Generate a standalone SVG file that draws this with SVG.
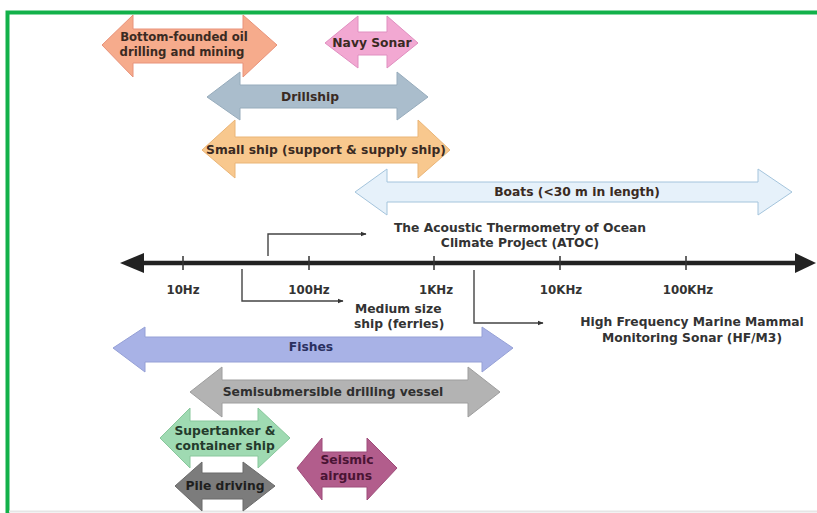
<svg xmlns="http://www.w3.org/2000/svg" width="817" height="513" viewBox="0 0 817 513">
<defs>
<style>
text{font-family:"DejaVu Sans","Liberation Sans",sans-serif;font-weight:bold;font-size:12.3px;text-anchor:middle;fill:#3a2a22}
.lbl{fill:#333}
.conn{fill:none;stroke:#444;stroke-width:1.4}
.shape{stroke-width:1;stroke-linejoin:miter}
</style>
<marker id="ah" viewBox="0 0 10 10" refX="9" refY="5" markerWidth="6" markerHeight="6" orient="auto" markerUnits="userSpaceOnUse"><path d="M0,1 L10,5 L0,9 Z" fill="#333"/></marker>
</defs>
<rect x="0" y="0" width="817" height="513" fill="#ffffff"/>
<path d="M7.5,513 V12.5 H817" fill="none" stroke="#12b14a" stroke-width="4"/>
<line x1="9" y1="511.5" x2="817" y2="511.5" stroke="#e6e6e6" stroke-width="2"/>

<g id="bottom-founded">
<polygon class="shape" fill="#f6ab8c" stroke="#e8927a" points="102,45 133,15 133,29 243,29 243,15 277,45 243,77 243,63 133,63 133,77"/>
<text x="184" y="41" style="font-size:11.7px">Bottom-founded oil</text>
<text x="182" y="56" style="font-size:11.7px">drilling and mining</text>
</g>
<g id="navy-sonar">
<polygon class="shape" fill="#f2a8d2" stroke="#e08fc0" points="325,43 358,16 358,32 387,32 387,16 418,43 387,68 387,55 358,55 358,68"/>
<text x="372" y="47">Navy Sonar</text>
</g>
<g id="drillship">
<polygon class="shape" fill="#aabdcc" stroke="#97acbc" points="207,97 240,72 240,85 397,85 397,72 428,97 397,120 397,108 240,108 240,120"/>
<text x="310" y="101">Drillship</text>
</g>
<g id="small-ship">
<polygon class="shape" fill="#f8c88e" stroke="#eab577" points="202,150 235,120 235,137 418,137 418,120 450,150 418,178 418,163 235,163 235,178"/>
<text x="326" y="154">Small ship (support &amp; supply ship)</text>
</g>
<g id="boats">
<polygon class="shape" fill="#e6f1fa" stroke="#a4c4dc" points="355,192 387,169 387,182 758,182 758,169 792,192 758,215 758,202 387,202 387,215"/>
<text x="577" y="196">Boats (&lt;30 m in length)</text>
</g>

<g id="axis">
<line x1="138" y1="263" x2="800" y2="263" stroke="#222" stroke-width="4.5"/>
<polygon points="120,263 144,253 144,273" fill="#222"/>
<polygon points="816,263 795,253 795,273" fill="#222"/>
<g stroke="#333" stroke-width="1.5">
<line x1="183" y1="256" x2="183" y2="270"/>
<line x1="309" y1="256" x2="309" y2="270"/>
<line x1="434" y1="256" x2="434" y2="270"/>
<line x1="560" y1="256" x2="560" y2="270"/>
<line x1="686" y1="256" x2="686" y2="270"/>
</g>
<text class="lbl" x="183" y="294" style="font-size:11.8px">10Hz</text>
<text class="lbl" x="309" y="294" style="font-size:11.8px">100Hz</text>
<text class="lbl" x="436" y="294" style="font-size:11.8px">1KHz</text>
<text class="lbl" x="561" y="294" style="font-size:11.8px">10KHz</text>
<text class="lbl" x="688" y="294" style="font-size:11.8px">100KHz</text>
</g>

<g id="connectors">
<path class="conn" d="M268,256 V234 H366" marker-end="url(#ah)"/>
<path class="conn" d="M242,269 V301 H343" marker-end="url(#ah)"/>
<path class="conn" d="M474,270 V323 H543" marker-end="url(#ah)"/>
</g>

<g id="atoc">
<text class="lbl" x="520" y="232">The Acoustic Thermometry of Ocean</text>
<text class="lbl" x="520" y="247">Climate Project (ATOC)</text>
</g>
<g id="medium-ship">
<text class="lbl" x="355" y="313" style="text-anchor:start">Medium size</text>
<text class="lbl" x="354" y="328" style="text-anchor:start">ship (ferries)</text>
</g>
<g id="hfm3">
<text class="lbl" x="692" y="326">High Frequency Marine Mammal</text>
<text class="lbl" x="692" y="342">Monitoring Sonar (HF/M3)</text>
</g>

<g id="fishes">
<polygon class="shape" fill="#a8b2e6" stroke="#95a0d6" points="113,348 145,327 145,337 482,337 482,327 513,348 482,372 482,362 145,362 145,372"/>
<text x="311" y="351" style="fill:#2a3060">Fishes</text>
</g>
<g id="semisub">
<polygon class="shape" fill="#b3b3b3" stroke="#9e9e9e" points="190,392 222,367 222,380 468,380 468,367 500,392 468,417 468,403 222,403 222,417"/>
<text x="333" y="396" style="fill:#2f2f2f">Semisubmersible drilling vessel</text>
</g>
<g id="supertanker">
<polygon class="shape" fill="#9fdab2" stroke="#88c79c" points="160,438 190,408 190,421 258,421 258,408 290,438 258,468 258,456 190,456 190,468"/>
<text x="225" y="435" style="fill:#243a2c">Supertanker &amp;</text>
<text x="225" y="450" style="fill:#243a2c">container ship</text>
</g>
<g id="pile-driving">
<polygon class="shape" fill="#7c7c7c" stroke="#6a6a6a" points="175,486 202,462 202,473 243,473 243,462 275,486 243,511 243,499 202,499 202,511"/>
<text x="225" y="490" style="fill:#1e1e1e">Pile driving</text>
</g>
<g id="seismic">
<polygon class="shape" fill="#b25d8c" stroke="#9e4c7a" points="297,468 322,438 322,452 367,452 367,438 397,468 367,500 367,487 322,487 322,500"/>
<text x="347" y="464" style="fill:#4a1434">Seismic</text>
<text x="346" y="480" style="fill:#4a1434">airguns</text>
</g>
</svg>
